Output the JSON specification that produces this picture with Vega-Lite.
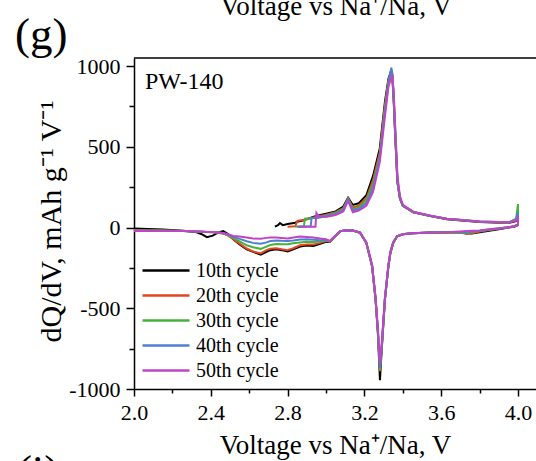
{
"$schema": "https://vega.github.io/schema/vega-lite/v6.json",
"width": 402, "height": 331,
"autosize": {"type": "none"},
"padding": {"left": 134, "top": 58, "right": 0, "bottom": 72},
"background": "white",
"config": {
  "font": "Liberation Serif",
  "view": {"stroke": null},
  "axis": {"grid": false, "domainColor": "#000", "domainWidth": 1.5, "tickColor": "#000", "tickWidth": 1.5, "labelColor": "#000", "titleColor": "#000", "labelFont": "Liberation Serif", "titleFont": "Liberation Serif", "titleFontWeight": "normal"}
},
"layer": [
{
  "data": {"values": [{}]},
  "mark": {"type": "rule", "color": "#000", "strokeWidth": 1.5},
  "encoding": {"y": {"datum": 1050, "type": "quantitative"}}
},
{
  "data": {"values": [
{"c":"10th cycle","o":1,"v":2.734,"q":5},{"c":"10th cycle","o":2,"v":2.75,"q":15},{"c":"10th cycle","o":3,"v":2.76,"q":28},{"c":"10th cycle","o":4,"v":2.775,"q":15},{"c":"10th cycle","o":5,"v":2.8,"q":22},{"c":"10th cycle","o":6,"v":2.84,"q":30},{"c":"10th cycle","o":7,"v":2.85,"q":35},{"c":"10th cycle","o":8,"v":2.86,"q":38},{"c":"10th cycle","o":9,"v":2.885,"q":45},{"c":"10th cycle","o":10,"v":2.89,"q":48},{"c":"10th cycle","o":11,"v":2.92,"q":60},{"c":"10th cycle","o":12,"v":2.925,"q":62},{"c":"10th cycle","o":13,"v":2.945,"q":70},{"c":"10th cycle","o":14,"v":2.95,"q":72},{"c":"10th cycle","o":15,"v":2.96,"q":75},{"c":"10th cycle","o":16,"v":3.0,"q":85},{"c":"10th cycle","o":17,"v":3.05,"q":100},{"c":"10th cycle","o":18,"v":3.09,"q":130},{"c":"10th cycle","o":19,"v":3.115,"q":185},{"c":"10th cycle","o":20,"v":3.14,"q":140},{"c":"10th cycle","o":21,"v":3.17,"q":150},{"c":"10th cycle","o":22,"v":3.21,"q":200},{"c":"10th cycle","o":23,"v":3.245,"q":320},{"c":"10th cycle","o":24,"v":3.28,"q":490},{"c":"10th cycle","o":25,"v":3.307,"q":780},{"c":"10th cycle","o":26,"v":3.325,"q":920},{"c":"10th cycle","o":27,"v":3.34,"q":975},{"c":"10th cycle","o":28,"v":3.345,"q":940},{"c":"10th cycle","o":29,"v":3.352,"q":800},{"c":"10th cycle","o":30,"v":3.36,"q":580},{"c":"10th cycle","o":31,"v":3.372,"q":280},{"c":"10th cycle","o":32,"v":3.385,"q":180},{"c":"10th cycle","o":33,"v":3.4,"q":135},{"c":"10th cycle","o":34,"v":3.455,"q":95},{"c":"10th cycle","o":35,"v":3.55,"q":70},{"c":"10th cycle","o":36,"v":3.63,"q":52},{"c":"10th cycle","o":37,"v":3.8,"q":35},{"c":"10th cycle","o":38,"v":3.95,"q":28},{"c":"10th cycle","o":39,"v":3.99,"q":40},{"c":"10th cycle","o":40,"v":4.0,"q":60},
{"c":"10th cycle","o":41,"v":4.0,"q":15},{"c":"10th cycle","o":42,"v":3.98,"q":5},{"c":"10th cycle","o":43,"v":3.95,"q":0},{"c":"10th cycle","o":44,"v":3.9,"q":-10},{"c":"10th cycle","o":45,"v":3.85,"q":-20},{"c":"10th cycle","o":46,"v":3.8,"q":-30},{"c":"10th cycle","o":47,"v":3.76,"q":-37},{"c":"10th cycle","o":48,"v":3.73,"q":-35},{"c":"10th cycle","o":49,"v":3.7,"q":-30},{"c":"10th cycle","o":50,"v":3.65,"q":-30},{"c":"10th cycle","o":51,"v":3.55,"q":-30},{"c":"10th cycle","o":52,"v":3.45,"q":-35},{"c":"10th cycle","o":53,"v":3.4,"q":-42},{"c":"10th cycle","o":54,"v":3.37,"q":-55},{"c":"10th cycle","o":55,"v":3.35,"q":-95},{"c":"10th cycle","o":56,"v":3.335,"q":-160},{"c":"10th cycle","o":57,"v":3.325,"q":-240},{"c":"10th cycle","o":58,"v":3.307,"q":-445},{"c":"10th cycle","o":59,"v":3.29,"q":-760},{"c":"10th cycle","o":60,"v":3.281,"q":-945},{"c":"10th cycle","o":61,"v":3.27,"q":-650},{"c":"10th cycle","o":62,"v":3.258,"q":-445},{"c":"10th cycle","o":63,"v":3.24,"q":-240},{"c":"10th cycle","o":64,"v":3.21,"q":-95},{"c":"10th cycle","o":65,"v":3.177,"q":-32},{"c":"10th cycle","o":66,"v":3.14,"q":-18},{"c":"10th cycle","o":67,"v":3.108,"q":-17},{"c":"10th cycle","o":68,"v":3.075,"q":-22},{"c":"10th cycle","o":69,"v":3.047,"q":-55},{"c":"10th cycle","o":70,"v":3.02,"q":-89},{"c":"10th cycle","o":71,"v":3.0,"q":-88},{"c":"10th cycle","o":72,"v":2.97,"q":-100},{"c":"10th cycle","o":73,"v":2.934,"q":-114},{"c":"10th cycle","o":74,"v":2.9,"q":-112},{"c":"10th cycle","o":75,"v":2.865,"q":-118},{"c":"10th cycle","o":76,"v":2.83,"q":-135},{"c":"10th cycle","o":77,"v":2.8,"q":-148},{"c":"10th cycle","o":78,"v":2.77,"q":-140},{"c":"10th cycle","o":79,"v":2.74,"q":-135},{"c":"10th cycle","o":80,"v":2.71,"q":-140},{"c":"10th cycle","o":81,"v":2.69,"q":-150},{"c":"10th cycle","o":82,"v":2.66,"q":-168},{"c":"10th cycle","o":83,"v":2.62,"q":-150},{"c":"10th cycle","o":84,"v":2.587,"q":-135},{"c":"10th cycle","o":85,"v":2.55,"q":-105},{"c":"10th cycle","o":86,"v":2.517,"q":-73},{"c":"10th cycle","o":87,"v":2.49,"q":-40},{"c":"10th cycle","o":88,"v":2.465,"q":-22},{"c":"10th cycle","o":89,"v":2.44,"q":-30},{"c":"10th cycle","o":90,"v":2.41,"q":-50},{"c":"10th cycle","o":91,"v":2.38,"q":-60},{"c":"10th cycle","o":92,"v":2.35,"q":-40},{"c":"10th cycle","o":93,"v":2.327,"q":-29},{"c":"10th cycle","o":94,"v":2.257,"q":-20},{"c":"10th cycle","o":95,"v":2.15,"q":-12},{"c":"10th cycle","o":96,"v":2.0,"q":-6},
{"c":"20th cycle","o":5,"v":2.8,"q":5},{"c":"20th cycle","o":6,"v":2.84,"q":8},{"c":"20th cycle","o":7,"v":2.85,"q":40},{"c":"20th cycle","o":8,"v":2.86,"q":43},{"c":"20th cycle","o":9,"v":2.885,"q":47},{"c":"20th cycle","o":10,"v":2.89,"q":48},{"c":"20th cycle","o":11,"v":2.92,"q":58},{"c":"20th cycle","o":12,"v":2.925,"q":60},{"c":"20th cycle","o":13,"v":2.945,"q":66},{"c":"20th cycle","o":14,"v":2.95,"q":68},{"c":"20th cycle","o":15,"v":2.96,"q":70},{"c":"20th cycle","o":16,"v":3.0,"q":80},{"c":"20th cycle","o":17,"v":3.05,"q":95},{"c":"20th cycle","o":18,"v":3.09,"q":120},{"c":"20th cycle","o":19,"v":3.115,"q":180},{"c":"20th cycle","o":20,"v":3.14,"q":125},{"c":"20th cycle","o":21,"v":3.17,"q":135},{"c":"20th cycle","o":22,"v":3.21,"q":180},{"c":"20th cycle","o":23,"v":3.245,"q":295},{"c":"20th cycle","o":24,"v":3.28,"q":465},{"c":"20th cycle","o":25,"v":3.307,"q":760},{"c":"20th cycle","o":26,"v":3.325,"q":910},{"c":"20th cycle","o":27,"v":3.34,"q":970},{"c":"20th cycle","o":28,"v":3.345,"q":950},{"c":"20th cycle","o":29,"v":3.352,"q":810},{"c":"20th cycle","o":30,"v":3.36,"q":590},{"c":"20th cycle","o":31,"v":3.372,"q":285},{"c":"20th cycle","o":32,"v":3.385,"q":180},{"c":"20th cycle","o":33,"v":3.4,"q":135},{"c":"20th cycle","o":34,"v":3.455,"q":95},{"c":"20th cycle","o":35,"v":3.55,"q":70},{"c":"20th cycle","o":36,"v":3.63,"q":53},{"c":"20th cycle","o":37,"v":3.8,"q":36},{"c":"20th cycle","o":38,"v":3.95,"q":30},{"c":"20th cycle","o":39,"v":3.99,"q":42},{"c":"20th cycle","o":40,"v":4.0,"q":70},
{"c":"20th cycle","o":41,"v":4.0,"q":15},{"c":"20th cycle","o":42,"v":3.98,"q":6},{"c":"20th cycle","o":43,"v":3.95,"q":0},{"c":"20th cycle","o":44,"v":3.9,"q":-8},{"c":"20th cycle","o":45,"v":3.85,"q":-16},{"c":"20th cycle","o":46,"v":3.8,"q":-24},{"c":"20th cycle","o":47,"v":3.76,"q":-35},{"c":"20th cycle","o":48,"v":3.73,"q":-40},{"c":"20th cycle","o":49,"v":3.7,"q":-30},{"c":"20th cycle","o":50,"v":3.65,"q":-29},{"c":"20th cycle","o":51,"v":3.55,"q":-30},{"c":"20th cycle","o":52,"v":3.45,"q":-35},{"c":"20th cycle","o":53,"v":3.4,"q":-42},{"c":"20th cycle","o":54,"v":3.37,"q":-55},{"c":"20th cycle","o":55,"v":3.35,"q":-95},{"c":"20th cycle","o":56,"v":3.335,"q":-160},{"c":"20th cycle","o":57,"v":3.325,"q":-240},{"c":"20th cycle","o":58,"v":3.307,"q":-445},{"c":"20th cycle","o":59,"v":3.29,"q":-750},{"c":"20th cycle","o":60,"v":3.281,"q":-890},{"c":"20th cycle","o":61,"v":3.27,"q":-640},{"c":"20th cycle","o":62,"v":3.258,"q":-440},{"c":"20th cycle","o":63,"v":3.24,"q":-240},{"c":"20th cycle","o":64,"v":3.21,"q":-95},{"c":"20th cycle","o":65,"v":3.177,"q":-32},{"c":"20th cycle","o":66,"v":3.14,"q":-18},{"c":"20th cycle","o":67,"v":3.108,"q":-17},{"c":"20th cycle","o":68,"v":3.075,"q":-22},{"c":"20th cycle","o":69,"v":3.047,"q":-54},{"c":"20th cycle","o":70,"v":3.02,"q":-88},{"c":"20th cycle","o":71,"v":3.0,"q":-84},{"c":"20th cycle","o":72,"v":2.97,"q":-95},{"c":"20th cycle","o":73,"v":2.934,"q":-105},{"c":"20th cycle","o":74,"v":2.9,"q":-105},{"c":"20th cycle","o":75,"v":2.865,"q":-110},{"c":"20th cycle","o":76,"v":2.83,"q":-128},{"c":"20th cycle","o":77,"v":2.8,"q":-140},{"c":"20th cycle","o":78,"v":2.77,"q":-135},{"c":"20th cycle","o":79,"v":2.74,"q":-128},{"c":"20th cycle","o":80,"v":2.71,"q":-132},{"c":"20th cycle","o":81,"v":2.69,"q":-140},{"c":"20th cycle","o":82,"v":2.66,"q":-160},{"c":"20th cycle","o":83,"v":2.62,"q":-148},{"c":"20th cycle","o":84,"v":2.587,"q":-130},{"c":"20th cycle","o":85,"v":2.55,"q":-100},{"c":"20th cycle","o":86,"v":2.517,"q":-72},{"c":"20th cycle","o":87,"v":2.49,"q":-50},{"c":"20th cycle","o":88,"v":2.465,"q":-38},{"c":"20th cycle","o":89,"v":2.44,"q":-32},{"c":"20th cycle","o":90,"v":2.41,"q":-29},{"c":"20th cycle","o":91,"v":2.38,"q":-27},{"c":"20th cycle","o":92,"v":2.35,"q":-26},{"c":"20th cycle","o":93,"v":2.327,"q":-25},{"c":"20th cycle","o":94,"v":2.257,"q":-21},{"c":"20th cycle","o":95,"v":2.15,"q":-18},{"c":"20th cycle","o":96,"v":2.0,"q":-15},
{"c":"30th cycle","o":6,"v":2.84,"q":5},{"c":"30th cycle","o":7,"v":2.85,"q":6},{"c":"30th cycle","o":8,"v":2.86,"q":6},{"c":"30th cycle","o":9,"v":2.885,"q":6},{"c":"30th cycle","o":10,"v":2.89,"q":55},{"c":"30th cycle","o":11,"v":2.92,"q":58},{"c":"30th cycle","o":12,"v":2.925,"q":59},{"c":"30th cycle","o":13,"v":2.945,"q":61},{"c":"30th cycle","o":14,"v":2.95,"q":62},{"c":"30th cycle","o":15,"v":2.96,"q":64},{"c":"30th cycle","o":16,"v":3.0,"q":75},{"c":"30th cycle","o":17,"v":3.05,"q":90},{"c":"30th cycle","o":18,"v":3.09,"q":115},{"c":"30th cycle","o":19,"v":3.115,"q":178},{"c":"30th cycle","o":20,"v":3.14,"q":115},{"c":"30th cycle","o":21,"v":3.17,"q":125},{"c":"30th cycle","o":22,"v":3.21,"q":165},{"c":"30th cycle","o":23,"v":3.245,"q":270},{"c":"30th cycle","o":24,"v":3.28,"q":445},{"c":"30th cycle","o":25,"v":3.307,"q":740},{"c":"30th cycle","o":26,"v":3.325,"q":900},{"c":"30th cycle","o":27,"v":3.34,"q":975},{"c":"30th cycle","o":28,"v":3.345,"q":950},{"c":"30th cycle","o":29,"v":3.352,"q":820},{"c":"30th cycle","o":30,"v":3.36,"q":600},{"c":"30th cycle","o":31,"v":3.372,"q":290},{"c":"30th cycle","o":32,"v":3.385,"q":182},{"c":"30th cycle","o":33,"v":3.4,"q":135},{"c":"30th cycle","o":34,"v":3.455,"q":95},{"c":"30th cycle","o":35,"v":3.55,"q":70},{"c":"30th cycle","o":36,"v":3.63,"q":54},{"c":"30th cycle","o":37,"v":3.8,"q":37},{"c":"30th cycle","o":38,"v":3.95,"q":30},{"c":"30th cycle","o":39,"v":3.99,"q":55},{"c":"30th cycle","o":40,"v":4.0,"q":145},
{"c":"30th cycle","o":41,"v":4.0,"q":20},{"c":"30th cycle","o":42,"v":3.98,"q":8},{"c":"30th cycle","o":43,"v":3.95,"q":2},{"c":"30th cycle","o":44,"v":3.9,"q":-6},{"c":"30th cycle","o":45,"v":3.85,"q":-14},{"c":"30th cycle","o":46,"v":3.8,"q":-22},{"c":"30th cycle","o":47,"v":3.76,"q":-28},{"c":"30th cycle","o":48,"v":3.73,"q":-36},{"c":"30th cycle","o":49,"v":3.7,"q":-30},{"c":"30th cycle","o":50,"v":3.65,"q":-29},{"c":"30th cycle","o":51,"v":3.55,"q":-30},{"c":"30th cycle","o":52,"v":3.45,"q":-35},{"c":"30th cycle","o":53,"v":3.4,"q":-42},{"c":"30th cycle","o":54,"v":3.37,"q":-55},{"c":"30th cycle","o":55,"v":3.35,"q":-93},{"c":"30th cycle","o":56,"v":3.335,"q":-158},{"c":"30th cycle","o":57,"v":3.325,"q":-238},{"c":"30th cycle","o":58,"v":3.307,"q":-440},{"c":"30th cycle","o":59,"v":3.29,"q":-745},{"c":"30th cycle","o":60,"v":3.281,"q":-880},{"c":"30th cycle","o":61,"v":3.27,"q":-640},{"c":"30th cycle","o":62,"v":3.258,"q":-440},{"c":"30th cycle","o":63,"v":3.24,"q":-238},{"c":"30th cycle","o":64,"v":3.21,"q":-94},{"c":"30th cycle","o":65,"v":3.177,"q":-32},{"c":"30th cycle","o":66,"v":3.14,"q":-18},{"c":"30th cycle","o":67,"v":3.108,"q":-17},{"c":"30th cycle","o":68,"v":3.075,"q":-22},{"c":"30th cycle","o":69,"v":3.047,"q":-53},{"c":"30th cycle","o":70,"v":3.02,"q":-86},{"c":"30th cycle","o":71,"v":3.0,"q":-80},{"c":"30th cycle","o":72,"v":2.97,"q":-86},{"c":"30th cycle","o":73,"v":2.934,"q":-90},{"c":"30th cycle","o":74,"v":2.9,"q":-88},{"c":"30th cycle","o":75,"v":2.865,"q":-92},{"c":"30th cycle","o":76,"v":2.83,"q":-98},{"c":"30th cycle","o":77,"v":2.8,"q":-103},{"c":"30th cycle","o":78,"v":2.77,"q":-103},{"c":"30th cycle","o":79,"v":2.74,"q":-102},{"c":"30th cycle","o":80,"v":2.71,"q":-108},{"c":"30th cycle","o":81,"v":2.69,"q":-118},{"c":"30th cycle","o":82,"v":2.66,"q":-132},{"c":"30th cycle","o":83,"v":2.62,"q":-122},{"c":"30th cycle","o":84,"v":2.587,"q":-110},{"c":"30th cycle","o":85,"v":2.55,"q":-85},{"c":"30th cycle","o":86,"v":2.517,"q":-65},{"c":"30th cycle","o":87,"v":2.49,"q":-48},{"c":"30th cycle","o":88,"v":2.465,"q":-36},{"c":"30th cycle","o":89,"v":2.44,"q":-31},{"c":"30th cycle","o":90,"v":2.41,"q":-29},{"c":"30th cycle","o":91,"v":2.38,"q":-27},{"c":"30th cycle","o":92,"v":2.35,"q":-26},{"c":"30th cycle","o":93,"v":2.327,"q":-25},{"c":"30th cycle","o":94,"v":2.257,"q":-21},{"c":"30th cycle","o":95,"v":2.15,"q":-19},{"c":"30th cycle","o":96,"v":2.0,"q":-18},
{"c":"40th cycle","o":7,"v":2.85,"q":5},{"c":"40th cycle","o":8,"v":2.86,"q":5},{"c":"40th cycle","o":9,"v":2.885,"q":6},{"c":"40th cycle","o":10,"v":2.89,"q":6},{"c":"40th cycle","o":11,"v":2.92,"q":6},{"c":"40th cycle","o":12,"v":2.925,"q":60},{"c":"40th cycle","o":13,"v":2.945,"q":58},{"c":"40th cycle","o":14,"v":2.95,"q":58},{"c":"40th cycle","o":15,"v":2.96,"q":60},{"c":"40th cycle","o":16,"v":3.0,"q":70},{"c":"40th cycle","o":17,"v":3.05,"q":85},{"c":"40th cycle","o":18,"v":3.09,"q":108},{"c":"40th cycle","o":19,"v":3.115,"q":175},{"c":"40th cycle","o":20,"v":3.14,"q":105},{"c":"40th cycle","o":21,"v":3.17,"q":115},{"c":"40th cycle","o":22,"v":3.21,"q":150},{"c":"40th cycle","o":23,"v":3.245,"q":245},{"c":"40th cycle","o":24,"v":3.28,"q":425},{"c":"40th cycle","o":25,"v":3.307,"q":715},{"c":"40th cycle","o":26,"v":3.325,"q":890},{"c":"40th cycle","o":27,"v":3.34,"q":990},{"c":"40th cycle","o":28,"v":3.345,"q":960},{"c":"40th cycle","o":29,"v":3.352,"q":830},{"c":"40th cycle","o":30,"v":3.36,"q":610},{"c":"40th cycle","o":31,"v":3.372,"q":300},{"c":"40th cycle","o":32,"v":3.385,"q":185},{"c":"40th cycle","o":33,"v":3.4,"q":138},{"c":"40th cycle","o":34,"v":3.455,"q":96},{"c":"40th cycle","o":35,"v":3.55,"q":72},{"c":"40th cycle","o":36,"v":3.63,"q":55},{"c":"40th cycle","o":37,"v":3.8,"q":38},{"c":"40th cycle","o":38,"v":3.95,"q":32},{"c":"40th cycle","o":39,"v":3.99,"q":50},{"c":"40th cycle","o":40,"v":4.0,"q":95},
{"c":"40th cycle","o":41,"v":4.0,"q":20},{"c":"40th cycle","o":42,"v":3.98,"q":8},{"c":"40th cycle","o":43,"v":3.95,"q":2},{"c":"40th cycle","o":44,"v":3.9,"q":-6},{"c":"40th cycle","o":45,"v":3.85,"q":-12},{"c":"40th cycle","o":46,"v":3.8,"q":-20},{"c":"40th cycle","o":47,"v":3.76,"q":-25},{"c":"40th cycle","o":48,"v":3.73,"q":-30},{"c":"40th cycle","o":49,"v":3.7,"q":-28},{"c":"40th cycle","o":50,"v":3.65,"q":-28},{"c":"40th cycle","o":51,"v":3.55,"q":-30},{"c":"40th cycle","o":52,"v":3.45,"q":-35},{"c":"40th cycle","o":53,"v":3.4,"q":-42},{"c":"40th cycle","o":54,"v":3.37,"q":-55},{"c":"40th cycle","o":55,"v":3.35,"q":-92},{"c":"40th cycle","o":56,"v":3.335,"q":-155},{"c":"40th cycle","o":57,"v":3.325,"q":-235},{"c":"40th cycle","o":58,"v":3.307,"q":-440},{"c":"40th cycle","o":59,"v":3.29,"q":-740},{"c":"40th cycle","o":60,"v":3.281,"q":-870},{"c":"40th cycle","o":61,"v":3.27,"q":-635},{"c":"40th cycle","o":62,"v":3.258,"q":-435},{"c":"40th cycle","o":63,"v":3.24,"q":-235},{"c":"40th cycle","o":64,"v":3.21,"q":-93},{"c":"40th cycle","o":65,"v":3.177,"q":-31},{"c":"40th cycle","o":66,"v":3.14,"q":-18},{"c":"40th cycle","o":67,"v":3.108,"q":-17},{"c":"40th cycle","o":68,"v":3.075,"q":-22},{"c":"40th cycle","o":69,"v":3.047,"q":-52},{"c":"40th cycle","o":70,"v":3.02,"q":-85},{"c":"40th cycle","o":71,"v":3.0,"q":-76},{"c":"40th cycle","o":72,"v":2.97,"q":-78},{"c":"40th cycle","o":73,"v":2.934,"q":-75},{"c":"40th cycle","o":74,"v":2.9,"q":-72},{"c":"40th cycle","o":75,"v":2.865,"q":-74},{"c":"40th cycle","o":76,"v":2.83,"q":-80},{"c":"40th cycle","o":77,"v":2.8,"q":-83},{"c":"40th cycle","o":78,"v":2.77,"q":-82},{"c":"40th cycle","o":79,"v":2.74,"q":-80},{"c":"40th cycle","o":80,"v":2.71,"q":-84},{"c":"40th cycle","o":81,"v":2.69,"q":-92},{"c":"40th cycle","o":82,"v":2.66,"q":-100},{"c":"40th cycle","o":83,"v":2.62,"q":-95},{"c":"40th cycle","o":84,"v":2.587,"q":-85},{"c":"40th cycle","o":85,"v":2.55,"q":-70},{"c":"40th cycle","o":86,"v":2.517,"q":-58},{"c":"40th cycle","o":87,"v":2.49,"q":-45},{"c":"40th cycle","o":88,"v":2.465,"q":-35},{"c":"40th cycle","o":89,"v":2.44,"q":-30},{"c":"40th cycle","o":90,"v":2.41,"q":-28},{"c":"40th cycle","o":91,"v":2.38,"q":-27},{"c":"40th cycle","o":92,"v":2.35,"q":-26},{"c":"40th cycle","o":93,"v":2.327,"q":-25},{"c":"40th cycle","o":94,"v":2.257,"q":-21},{"c":"40th cycle","o":95,"v":2.15,"q":-20},{"c":"40th cycle","o":96,"v":2.0,"q":-20},
{"c":"50th cycle","o":8,"v":2.86,"q":5},{"c":"50th cycle","o":9,"v":2.885,"q":5},{"c":"50th cycle","o":10,"v":2.89,"q":5},{"c":"50th cycle","o":11,"v":2.92,"q":5},{"c":"50th cycle","o":12,"v":2.925,"q":5},{"c":"50th cycle","o":13,"v":2.945,"q":5},{"c":"50th cycle","o":14,"v":2.95,"q":90},{"c":"50th cycle","o":15,"v":2.96,"q":72},{"c":"50th cycle","o":16,"v":3.0,"q":65},{"c":"50th cycle","o":17,"v":3.05,"q":78},{"c":"50th cycle","o":18,"v":3.09,"q":100},{"c":"50th cycle","o":19,"v":3.115,"q":165},{"c":"50th cycle","o":20,"v":3.14,"q":95},{"c":"50th cycle","o":21,"v":3.17,"q":105},{"c":"50th cycle","o":22,"v":3.21,"q":135},{"c":"50th cycle","o":23,"v":3.245,"q":220},{"c":"50th cycle","o":24,"v":3.28,"q":405},{"c":"50th cycle","o":25,"v":3.307,"q":690},{"c":"50th cycle","o":26,"v":3.325,"q":870},{"c":"50th cycle","o":27,"v":3.34,"q":930},{"c":"50th cycle","o":28,"v":3.345,"q":940},{"c":"50th cycle","o":29,"v":3.352,"q":850},{"c":"50th cycle","o":30,"v":3.36,"q":640},{"c":"50th cycle","o":31,"v":3.372,"q":320},{"c":"50th cycle","o":32,"v":3.385,"q":195},{"c":"50th cycle","o":33,"v":3.4,"q":140},{"c":"50th cycle","o":34,"v":3.455,"q":98},{"c":"50th cycle","o":35,"v":3.55,"q":72},{"c":"50th cycle","o":36,"v":3.63,"q":55},{"c":"50th cycle","o":37,"v":3.8,"q":38},{"c":"50th cycle","o":38,"v":3.95,"q":32},{"c":"50th cycle","o":39,"v":3.99,"q":45},{"c":"50th cycle","o":40,"v":4.0,"q":60},
{"c":"50th cycle","o":41,"v":4.0,"q":15},{"c":"50th cycle","o":42,"v":3.98,"q":8},{"c":"50th cycle","o":43,"v":3.95,"q":2},{"c":"50th cycle","o":44,"v":3.9,"q":-5},{"c":"50th cycle","o":45,"v":3.85,"q":-10},{"c":"50th cycle","o":46,"v":3.8,"q":-18},{"c":"50th cycle","o":47,"v":3.76,"q":-20},{"c":"50th cycle","o":48,"v":3.73,"q":-22},{"c":"50th cycle","o":49,"v":3.7,"q":-24},{"c":"50th cycle","o":50,"v":3.65,"q":-27},{"c":"50th cycle","o":51,"v":3.55,"q":-30},{"c":"50th cycle","o":52,"v":3.45,"q":-35},{"c":"50th cycle","o":53,"v":3.4,"q":-42},{"c":"50th cycle","o":54,"v":3.37,"q":-55},{"c":"50th cycle","o":55,"v":3.35,"q":-90},{"c":"50th cycle","o":56,"v":3.335,"q":-150},{"c":"50th cycle","o":57,"v":3.325,"q":-230},{"c":"50th cycle","o":58,"v":3.307,"q":-430},{"c":"50th cycle","o":59,"v":3.29,"q":-720},{"c":"50th cycle","o":60,"v":3.281,"q":-840},{"c":"50th cycle","o":61,"v":3.27,"q":-620},{"c":"50th cycle","o":62,"v":3.258,"q":-430},{"c":"50th cycle","o":63,"v":3.24,"q":-230},{"c":"50th cycle","o":64,"v":3.21,"q":-92},{"c":"50th cycle","o":65,"v":3.177,"q":-30},{"c":"50th cycle","o":66,"v":3.14,"q":-18},{"c":"50th cycle","o":67,"v":3.108,"q":-17},{"c":"50th cycle","o":68,"v":3.075,"q":-22},{"c":"50th cycle","o":69,"v":3.047,"q":-52},{"c":"50th cycle","o":70,"v":3.02,"q":-83},{"c":"50th cycle","o":71,"v":3.0,"q":-72},{"c":"50th cycle","o":72,"v":2.97,"q":-68},{"c":"50th cycle","o":73,"v":2.934,"q":-62},{"c":"50th cycle","o":74,"v":2.9,"q":-58},{"c":"50th cycle","o":75,"v":2.865,"q":-55},{"c":"50th cycle","o":76,"v":2.83,"q":-62},{"c":"50th cycle","o":77,"v":2.8,"q":-68},{"c":"50th cycle","o":78,"v":2.77,"q":-65},{"c":"50th cycle","o":79,"v":2.74,"q":-62},{"c":"50th cycle","o":80,"v":2.71,"q":-62},{"c":"50th cycle","o":81,"v":2.69,"q":-64},{"c":"50th cycle","o":82,"v":2.66,"q":-70},{"c":"50th cycle","o":83,"v":2.62,"q":-68},{"c":"50th cycle","o":84,"v":2.587,"q":-62},{"c":"50th cycle","o":85,"v":2.55,"q":-56},{"c":"50th cycle","o":86,"v":2.517,"q":-52},{"c":"50th cycle","o":87,"v":2.49,"q":-42},{"c":"50th cycle","o":88,"v":2.465,"q":-34},{"c":"50th cycle","o":89,"v":2.44,"q":-30},{"c":"50th cycle","o":90,"v":2.41,"q":-28},{"c":"50th cycle","o":91,"v":2.38,"q":-27},{"c":"50th cycle","o":92,"v":2.35,"q":-25},{"c":"50th cycle","o":93,"v":2.327,"q":-25},{"c":"50th cycle","o":94,"v":2.257,"q":-22},{"c":"50th cycle","o":95,"v":2.15,"q":-21},{"c":"50th cycle","o":96,"v":2.0,"q":-21}
  ]},
  "mark": {"type": "line", "strokeWidth": 2},
  "encoding": {
    "x": {"field": "v", "type": "quantitative",
      "scale": {"domain": [2.0, 4.09375], "nice": false, "zero": false},
      "axis": {"values": [2.0,2.2,2.4,2.6,2.8,3.0,3.2,3.4,3.6,3.8,4.0],
        "labelExpr": "round(datum.value*10) % 4 == 0 ? format(datum.value, '.1f') : ''",
        "tickSize": {"condition": {"test": "round(datum.value*10) % 4 == 0", "value": 7}, "value": 4},
        "labelFont": "Liberation Serif", "labelFontSize": 22, "labelPadding": 6, "labelFlush": false, "labelOverlap": false,
        "title": "Voltage vs Na⁺/Na, V", "titleFont": "Liberation Serif", "titleFontSize": 27, "titleY": 64, "titleBaseline": "alphabetic"}},
    "y": {"field": "q", "type": "quantitative",
      "scale": {"domain": [-1000, 1050], "nice": false, "zero": false},
      "axis": {"values": [-1000,-750,-500,-250,0,250,500,750,1000],
        "labelExpr": "datum.value % 500 == 0 ? '' + datum.value : ''",
        "tickSize": {"condition": {"test": "datum.value % 500 == 0", "value": 8}, "value": 5},
        "labelFont": "Liberation Serif", "labelFontSize": 22, "labelPadding": 6, "labelFlush": false, "labelOverlap": false,
        "title": "dQ/dV, mAh g⁻¹ V⁻¹", "titleFont": "Liberation Serif", "titleFontSize": 30, "titleX": -83, "titleY": 163, "titleAngle": -90, "titleBaseline": "middle", "titleAlign": "center"}},
    "color": {"field": "c", "type": "nominal",
      "scale": {"domain": ["10th cycle","20th cycle","30th cycle","40th cycle","50th cycle"], "range": ["#000000","#e5451f","#45b33a","#4f7fd1","#c044c8"]},
      "legend": {"title": null, "orient": "none", "legendX": 7, "legendY": 200, "symbolType": "stroke", "symbolSize": 2209, "symbolStrokeWidth": 2.5, "clipHeight": 25, "rowPadding": 0, "padding": 0, "labelOffset": 5, "labelFontSize": 20, "labelFont": "Liberation Serif", "labelColor": "#000"}},
    "order": {"field": "o", "type": "quantitative"}
  }
},
{
  "data": {"values": [{}]},
  "mark": {"type": "text", "fontSize": 24, "align": "left", "baseline": "alphabetic", "font": "Liberation Serif", "color": "#000"},
  "encoding": {"x": {"datum": 2.057, "type": "quantitative"}, "y": {"datum": 858, "type": "quantitative"}, "text": {"value": "PW-140"}}
},
{
  "data": {"values": [{}]},
  "mark": {"type": "text", "fontSize": 45, "align": "left", "baseline": "alphabetic", "font": "Liberation Serif", "color": "#000"},
  "encoding": {"x": {"datum": 1.38, "type": "quantitative"}, "y": {"datum": 1106, "type": "quantitative"}, "text": {"value": "(g)"}}
},
{
  "data": {"values": [{}]},
  "mark": {"type": "text", "fontSize": 45, "align": "left", "baseline": "alphabetic", "font": "Liberation Serif", "color": "#000"},
  "encoding": {"x": {"datum": 1.39, "type": "quantitative"}, "y": {"datum": -1601, "type": "quantitative"}, "text": {"value": "(i)"}}
},
{
  "data": {"values": [{}]},
  "mark": {"type": "text", "fontSize": 27, "align": "center", "baseline": "alphabetic", "font": "Liberation Serif", "color": "#000"},
  "encoding": {"x": {"datum": 3.052, "type": "quantitative"}, "y": {"datum": 1316, "type": "quantitative"}, "text": {"value": "Voltage vs Na⁺/Na, V"}}
}
]
}
